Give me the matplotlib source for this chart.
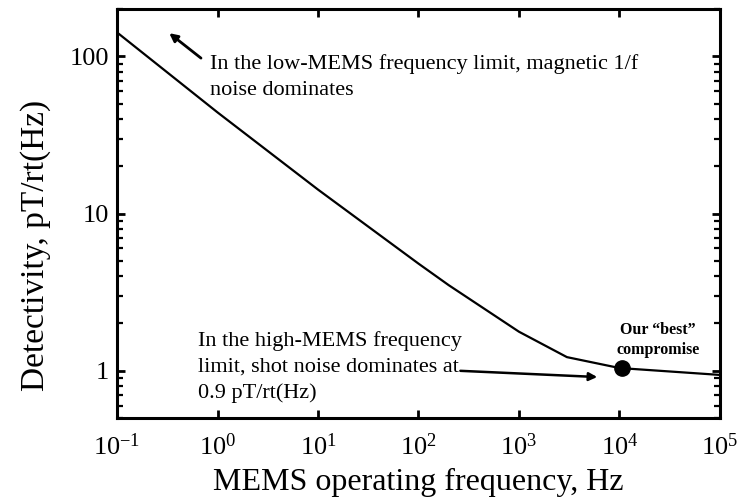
import matplotlib
matplotlib.use("Agg")
import matplotlib.pyplot as plt
from matplotlib.ticker import NullLocator, LogLocator, NullFormatter

# values
freq = [0.1, 1, 10, 100, 200, 1000, 3000, 10000, 100000]
detectivity = [142, 44, 14.2, 4.8, 3.5, 1.77, 1.22, 1.04, 0.94]
best_freq = [1.05e4]
best_det = [1.04]
xtick_vals = [1e-1, 1e0, 1e1, 1e2, 1e3, 1e4, 1e5]
xtick_labels = ['$10^{-1}$', '$10^{0}$', '$10^{1}$', '$10^{2}$',
                '$10^{3}$', '$10^{4}$', '$10^{5}$']
ytick_vals = [1, 10, 100]
ytick_labels = ["1", "10", "100"]

plt.rcParams['font.family'] = ['Liberation Serif', 'DejaVu Serif']
plt.rcParams['mathtext.fontset'] = 'custom'
plt.rcParams['mathtext.rm'] = 'Liberation Serif'
plt.rcParams['mathtext.it'] = 'Liberation Serif:italic'
plt.rcParams['mathtext.bf'] = 'Liberation Serif:bold'
plt.rcParams['axes.unicode_minus'] = False

fig = plt.figure(figsize=(7.52, 5.04), dpi=100)
ax = fig.add_axes([0.1556, 0.1706, 0.8018, 0.8115])

ax.plot(freq, detectivity, color='black', lw=1.6)
ax.plot(best_freq, best_det, 'o', color='black', ms=11)

ax.set_xscale('log')
ax.set_yscale('log')
ax.set_xlim(0.1, 1e5)
ax.set_ylim(0.5, 200)

ax.set_xticks(xtick_vals)
ax.set_xticklabels(xtick_labels)
ax.xaxis.set_minor_locator(NullLocator())
ax.set_yticks(ytick_vals)
ax.set_yticklabels(ytick_labels)
ax.yaxis.set_minor_locator(LogLocator(base=10, subs=range(2, 10), numticks=10))
ax.yaxis.set_minor_formatter(NullFormatter())

for s in ax.spines.values():
    s.set_linewidth(2.2)
ax.tick_params(which='major', direction='in', length=6, width=2,
               labelsize=19, top=True, right=True)
ax.tick_params(which='minor', direction='in', length=4.5, width=1.6, right=True)
ax.tick_params(axis='x', pad=11)
ax.tick_params(axis='y', pad=6)

ax.set_xlabel('MEMS operating frequency, Hz', fontsize=23, labelpad=6)
ax.set_ylabel('Detectivity, pT/rt(Hz)', fontsize=24)
ax.yaxis.set_label_coords(-0.110, 0.423)

ax.annotate('', xy=(0.315, 144), xytext=(0.72, 95),
            arrowprops=dict(arrowstyle='-|>', color='black', lw=2, mutation_scale=12))
ax.text(0.84, 104, 'In the low-MEMS frequency limit, magnetic 1/f\nnoise dominates',
        fontsize=16, va='top', ha='left', linespacing=1.5)

ax.annotate('', xy=(6400, 0.91), xytext=(245, 1.0),
            arrowprops=dict(arrowstyle='-|>', color='black', lw=1.8, mutation_scale=12))
ax.text(0.64, 1.78, 'In the high-MEMS frequency\nlimit, shot noise dominates at\n0.9 pT/rt(Hz)',
        fontsize=16, va='top', ha='left', linespacing=1.45)

ax.text(2.4e4, 1.56, 'Our \u201cbest\u201d\ncompromise', fontsize=11.5, fontweight='bold',
        ha='center', va='center', linespacing=1.35)

fig.savefig('out.png', dpi=100)
